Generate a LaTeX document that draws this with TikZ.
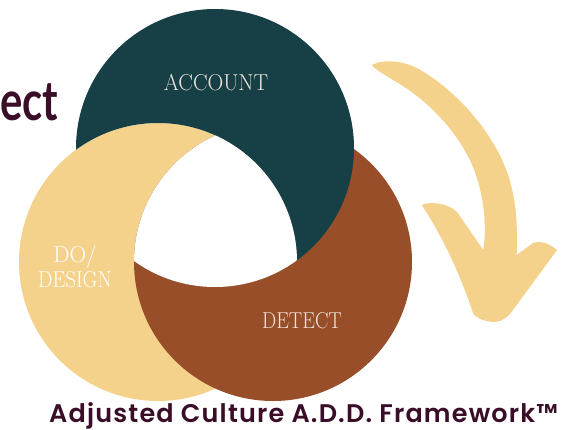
\documentclass[tikz,border=0pt]{standalone}
\usepackage{fontspec}
\setmainfont{Latin Modern Roman}
\newfontfamily\headfont{Lato}[UprightFont=* Bold]
\newfontfamily\titlefont{Poppins}[UprightFont=* SemiBold, LetterSpace=4.6]
\definecolor{tealc}{HTML}{163F46}
\definecolor{brownc}{HTML}{974E29}
\definecolor{sandc}{HTML}{F4D28C}
\definecolor{plum}{HTML}{3A0E28}
\definecolor{creamc}{HTML}{EFE6DA}
\tikzset{
  ring label/.style={font=\fontsize{23}{23}\selectfont, text=creamc, inner sep=0pt, anchor=base},
  ring/.style={radius=139pt}
}
\newcommand{\narrow}[2]{\scalebox{#1}[1]{#2}}
\begin{document}
\begin{tikzpicture}[x=1pt,y=-1pt]
\path[use as bounding box] (0,0) rectangle (584,429);
% centres of the three rings
\coordinate (cA) at (215,148);
\coordinate (cD) at (158,262);
\coordinate (cT) at (273,262);
% rings, overlapping in a cycle: sand under brown, brown under teal, teal under sand
\fill[sandc]  (cD) circle[ring];
\fill[brownc] (cT) circle[ring];
\begin{scope}[even odd rule]
  % teal only where the sand ring is not
  \clip (-10,-10) rectangle (600,440) (cD) circle[ring];
  \fill[tealc, nonzero rule] (cA) circle[ring];
\end{scope}
% open centre where all three meet
\begin{scope}
  \clip (cA) circle[ring];
  \clip (cT) circle[ring];
  \fill[white] (cD) circle[ring];
\end{scope}
% labels
\node[ring label] (account) at (216,90.5) {\narrow{0.95}{ACCOUNT}};
\node[ring label, text=white] (do) at (75,262) {\narrow{1.0}{DO/}};
\node[ring label, text=white] (design) at (75,287) {\narrow{0.89}{DESIGN}};
\node[ring label] (detect) at (302,328) {\narrow{0.875}{DETECT}};
% curved arrow
\fill[sandc] (371.7,65) .. controls (385,58) and (405,62) .. (417,68)
  .. controls (460,92) and (500,140) .. (511,185)
  .. controls (518,212) and (517,235) .. (516.7,255)
  -- (533,243) .. controls (541,240) and (550,244) .. (557,250)
  -- (513,310) .. controls (508,317) and (503,321) .. (495,322)
  .. controls (485,322) and (476,318) .. (473,313)
  .. controls (462,280) and (445,240) .. (421.7,205)
  .. controls (430,201) and (448,203) .. (457,212)
  -- (483.3,250)
  .. controls (487,225) and (484,195) .. (473,167)
  .. controls (455,125) and (420,95) .. (393,80)
  .. controls (385,75) and (376,70) .. cycle;
% heading fragment and title
\node[font=\headfont\fontsize{55}{55}\selectfont, text=plum, inner sep=0pt, anchor=base east] (ect) at (58.5,120) {\narrow{0.76}{ect}};
\node[font=\titlefont\fontsize{25.5}{25.5}\selectfont, text=plum, inner sep=0pt, anchor=base west] (title) at (49,422.5) {Adjusted Culture A.D.D. Framework™};
\end{tikzpicture}
\end{document}
